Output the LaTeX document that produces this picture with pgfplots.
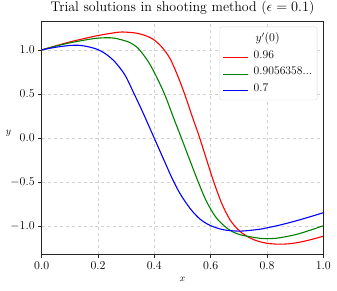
\documentclass[border=0pt]{standalone}
\usepackage{pgfplots}
\pgfplotsset{compat=1.18}
\definecolor{mplred}{RGB}{255,0,0}
\definecolor{mplgreen}{RGB}{0,128,0}
\definecolor{mplblue}{RGB}{0,0,255}
\newcommand{\legline}[1]{\node[inner sep=0pt, anchor=center] at (12.5bp,0bp) {\textcolor{#1}{\rule{25bp}{1.1bp}}};}
\begin{document}
\begin{tikzpicture}
\begin{axis}[
  scale only axis, width=281.6bp, height=232.6bp,
  xmin=0, xmax=1, ymin=-1.32, ymax=1.32,
  xtick={0,0.2,0.4,0.6,0.8,1}, ytick={-1,-0.5,0,0.5,1},
  xticklabel style={/pgf/number format/.cd, fixed, fixed zerofill, precision=1},
  yticklabel style={/pgf/number format/.cd, fixed, fixed zerofill, precision=1},
  tick label style={font=\fontsize{11.7}{14}\selectfont},
  tick align=outside, tick pos=left, major tick length=3.5bp,
  axis line style={black!85}, major tick style={black!85, line width=0.6pt},
  grid=major, grid style={dashed, black!18, line width=0.5pt},
  title={Trial solutions in shooting method ($\epsilon = 0.1$)},
  title style={font=\fontsize{14}{16}\selectfont, yshift=-2.5bp},
  xlabel={$x$}, ylabel={$y$},
  label style={font=\fontsize{11.7}{14}\selectfont},
  ylabel style={rotate=-90},
  every axis y label/.style={at={(axis description cs:-0.118,0.52)}, anchor=center},
  every axis x label/.style={at={(axis description cs:0.5,0)}, anchor=center, yshift=-25.4bp},
  legend style={at={(rel axis cs:0.9787,0.9785)}, anchor=north east,
    draw=black!15, rounded corners=2bp, fill=white,
    font=\fontsize{11.7}{14}\selectfont, row sep=2.7bp, column sep=4bp, inner ysep=4.5bp,
    nodes={text height=8.5bp, text depth=2.5bp, inner ysep=1.5bp}},
  legend cell align=left,
]
\addlegendimage{empty legend}
\addlegendentry{\hspace{2bp}$y'(0)$}
\addlegendimage{legend image code/.code={\legline{mplred}}}
\addlegendentry{0.96}
\addlegendimage{legend image code/.code={\legline{mplgreen}}}
\addlegendentry{0.9056358...}
\addlegendimage{legend image code/.code={\legline{mplblue}}}
\addlegendentry{0.7}
\addplot[mplred, line width=1.1bp, smooth, forget plot] coordinates {
(0,1.0) (0.05,1.046) (0.1,1.09) (0.15,1.128) (0.189,1.156) (0.23,1.18) (0.284,1.203)
(0.343,1.186) (0.391,1.13) (0.426,1.034) (0.456,0.90) (0.485,0.69) (0.509,0.485)
(0.533,0.258) (0.558,0.03) (0.586,-0.25) (0.609,-0.48) (0.639,-0.74) (0.669,-0.93)
(0.704,-1.06) (0.74,-1.135) (0.769,-1.172) (0.8,-1.195) (0.84,-1.205)
(0.88,-1.2) (0.92,-1.18) (0.96,-1.15) (1.0,-1.115)};
\addplot[mplgreen, line width=1.1bp, smooth, forget plot] coordinates {
(0,1.0) (0.05,1.043) (0.1,1.08) (0.15,1.11) (0.189,1.13) (0.23,1.138) (0.26,1.132)
(0.308,1.09) (0.343,1.016) (0.379,0.864) (0.408,0.693) (0.438,0.485) (0.467,0.239)
(0.493,0.025) (0.527,-0.26) (0.556,-0.5) (0.586,-0.725) (0.621,-0.91) (0.663,-1.035)
(0.704,-1.097) (0.769,-1.136) (0.8,-1.143) (0.84,-1.135) (0.9,-1.098) (0.95,-1.05)
(1.0,-0.996)};
\addplot[mplblue, line width=1.1bp, smooth, forget plot] coordinates {
(0,1.0) (0.05,1.03) (0.1,1.05) (0.14,1.05) (0.189,1.016) (0.225,0.959) (0.26,0.864)
(0.296,0.713) (0.325,0.523) (0.355,0.32) (0.385,0.105) (0.405,-0.04) (0.432,-0.235)
(0.462,-0.45) (0.491,-0.63) (0.527,-0.80) (0.562,-0.92) (0.598,-0.992) (0.645,-1.041)
(0.704,-1.057) (0.769,-1.038) (0.8,-1.02) (0.85,-0.985) (0.9,-0.943) (0.95,-0.897)
(1.0,-0.848)};
\end{axis}
\pgfresetboundingbox
\path (-41.7bp,-36.7bp) rectangle (295.3bp,254.3bp);
\end{tikzpicture}
\end{document}
